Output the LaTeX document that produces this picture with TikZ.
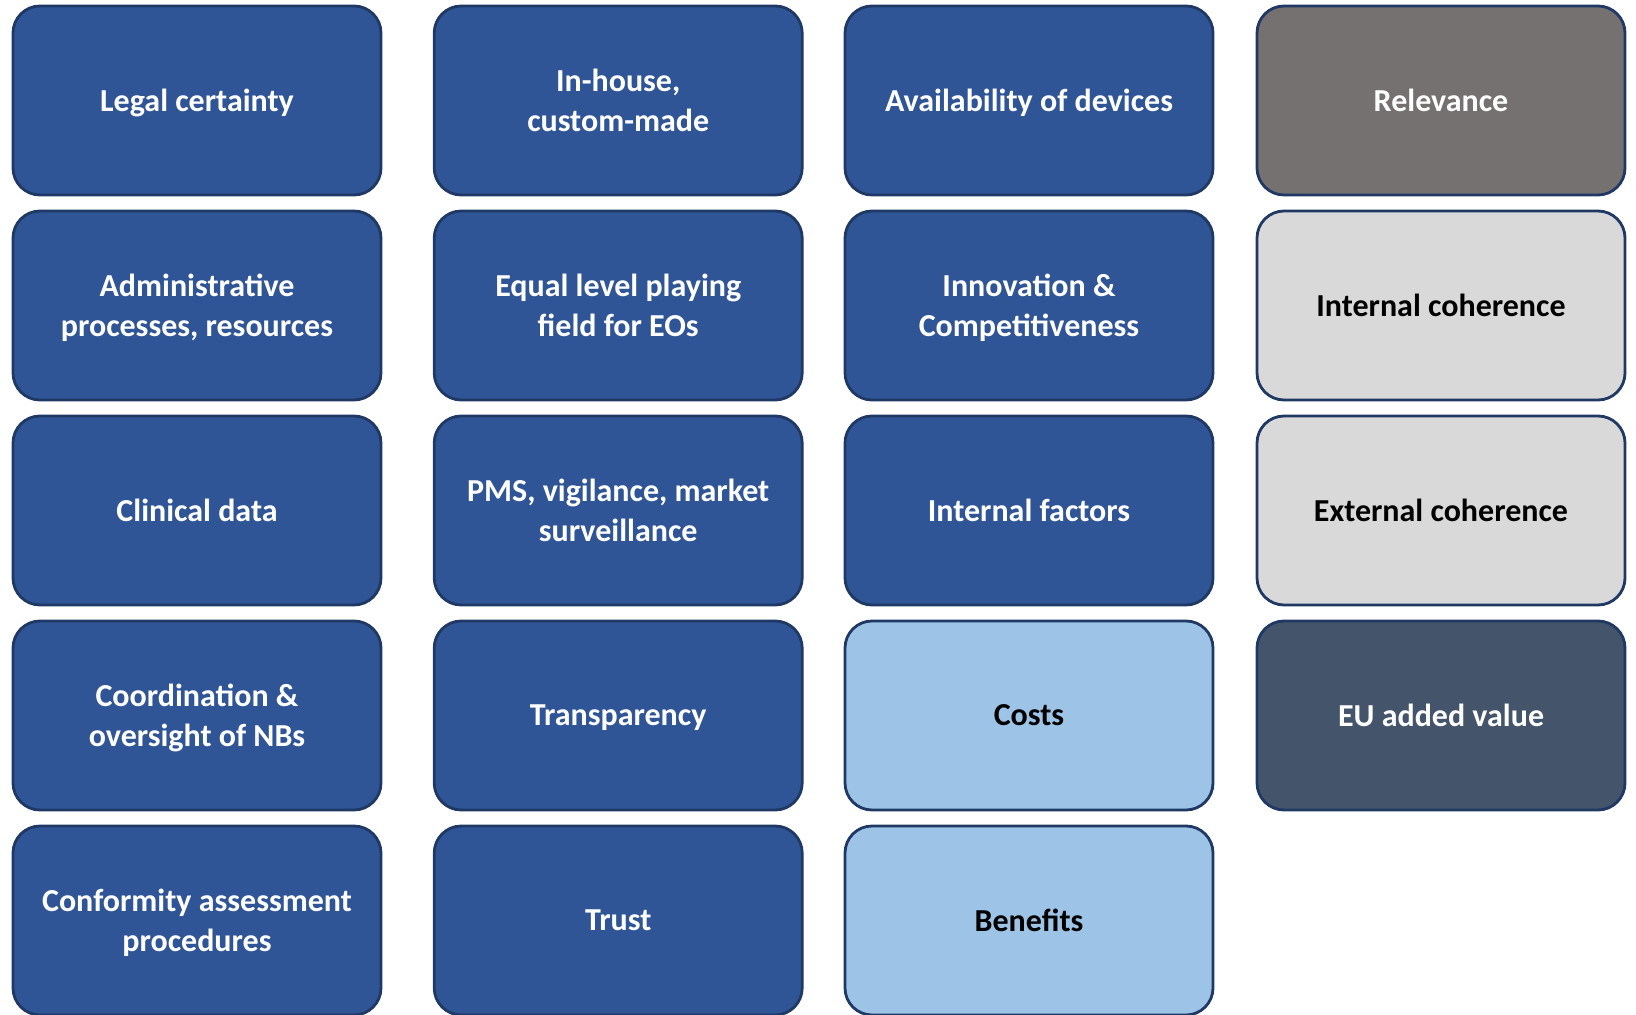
\documentclass[tikz,border=0pt]{standalone}
\usepackage{fontspec}
\setmainfont{Carlito}
\usepackage{tikz}
\usetikzlibrary{positioning}
\definecolor{boxblue}{HTML}{2F5597}
\definecolor{boxline}{HTML}{203864}
\definecolor{boxgrey}{HTML}{767171}
\definecolor{boxlight}{HTML}{D9D9D9}
\definecolor{boxsky}{HTML}{9DC3E6}
\definecolor{boxslate}{HTML}{44546A}
\tikzstyle{crit} = [rectangle, rounded corners=13.5pt, draw=boxline, line width=1.4pt, minimum width=184pt, minimum height=94.5pt, inner sep=2pt, outer sep=0pt, align=center, text depth=0pt, font=\fontsize{16}{20}\selectfont\bfseries]
\tikzstyle{blue} = [crit, fill=boxblue, text=white]
\tikzstyle{grey} = [crit, fill=boxgrey, text=white]
\tikzstyle{light} = [crit, fill=boxlight, text=black]
\tikzstyle{sky} = [crit, fill=boxsky, text=black]
\tikzstyle{slate} = [crit, fill=boxslate, text=white]

\begin{document}
\begin{tikzpicture}[node distance=8pt and 23pt]
            \useasboundingbox (0,0) rectangle (818pt,-507.5pt);
            \node (legal) [blue, anchor=north west] at (6.5pt,-3pt) {Legal certainty};
            \node (admin) [blue, below=of legal] {Administrative\\processes, resources};
            \node (clinical) [blue, below=of admin] {Clinical data};
            \node (coord) [blue, below=of clinical] {Coordination \&\\oversight of NBs};
            \node (conform) [blue, below=of coord] {Conformity assessment\\procedures};
            
            \node (inhouse) [blue, right=26.6pt of legal] {In-house,\\custom-made};
            \node (level) [blue, below=of inhouse] {Equal level playing\\field for EOs};
            \node (pms) [blue, below=of level] {PMS, vigilance, market\\surveillance};
            \node (transp) [blue, below=of pms] {Transparency};
            \node (trust) [blue, below=of transp] {Trust};
            
            \node (avail) [blue, right=21.4pt of inhouse] {Availability of devices};
            \node (innov) [blue, below=of avail] {Innovation \&\\Competitiveness};
            \node (internal) [blue, below=of innov] {Internal factors};
            \node (costs) [sky, below=of internal] {Costs};
            \node (benefits) [sky, below=of costs] {Benefits};
            
            \node (relev) [grey, right=22pt of avail] {Relevance};
            \node (intcoh) [light, below=of relev] {Internal coherence};
            \node (extcoh) [light, below=of intcoh] {External coherence};
            \node (euadded) [slate, below=of extcoh] {EU added value};
        \end{tikzpicture}
\end{document}
